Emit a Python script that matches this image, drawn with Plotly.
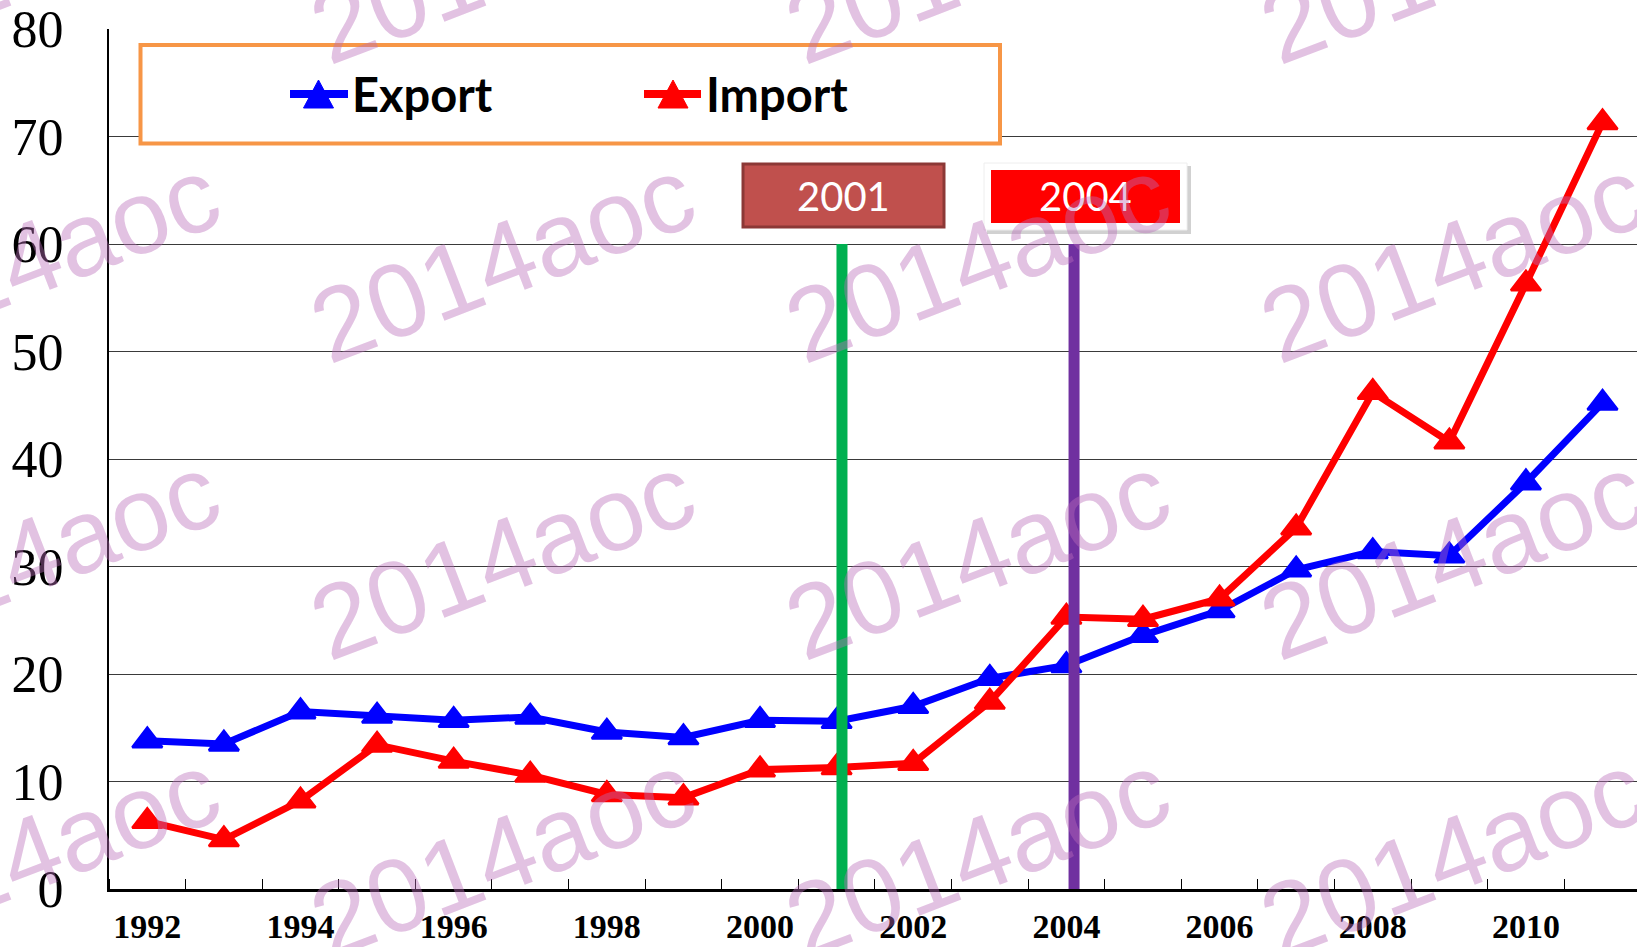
import plotly.graph_objects as go

# ---- data ----
years = list(range(1992, 2012))
export_vals = [13.8, 13.5, 16.5, 16.1, 15.7, 16.0, 14.6, 14.1, 15.7, 15.6,
               17.0, 19.6, 20.8, 23.6, 25.9, 29.7, 31.4, 31.0, 37.8, 45.2]
import_vals = [6.3, 4.6, 8.2, 13.4, 11.9, 10.6, 8.8, 8.5, 11.1, 11.3,
               11.7, 17.4, 25.3, 25.1, 27.0, 33.6, 46.2, 41.6, 56.3, 71.3]
series_names = ["Export", "Import"]
series_colors = ["#0000FF", "#FF0000"]
x_tick_years = years[::2]
y_ticks = list(range(0, 81, 10))
event_years = [2001.07, 2004.1]
event_labels = ["2001", "2004"]
event_top = 60
watermark_text = "2014aoc"

# ---- layout geometry (pixels) ----
W, H = 1637, 947
L, R, T, B = 109, 0, 29, 58
PW, PH = W - L - R, H - T - B


def X(px):
    return (px - L) / PW


def Y(py):
    return (H - B - py) / PH


fig = go.Figure()
for name, vals, col in zip(series_names, [export_vals, import_vals], series_colors):
    fig.add_trace(go.Scatter(
        x=years, y=vals, name=name, mode="lines+markers",
        line=dict(color=col, width=7),
        marker=dict(symbol="triangle-up", size=26, color=col,
                    line=dict(color=col, width=2.5)),
        cliponaxis=False, showlegend=False))

shapes = []
annotations = []

# event vertical lines
for ex, col in zip(event_years, ["#00B050", "#7030A0"]):
    shapes.append(dict(type="line", xref="x", yref="y", x0=ex, x1=ex, y0=0, y1=event_top,
                       line=dict(color=col, width=11), layer="above"))

# legend box (manual)
shapes.append(dict(type="rect", xref="paper", yref="paper",
                   x0=X(140.5), x1=X(1000), y0=Y(143.5), y1=Y(45),
                   line=dict(color="#F79646", width=4), fillcolor="white", layer="above"))
legend_items = [(290, 348, 318.5, 350), (644, 701, 673, 704)]
for (lx0, lx1, tx, txt_x), name, col in zip(legend_items, series_names, series_colors):
    shapes.append(dict(type="line", xref="paper", yref="paper",
                       x0=X(lx0), x1=X(lx1), y0=Y(94), y1=Y(94),
                       line=dict(color=col, width=8), layer="above"))
    shapes.append(dict(type="path", xref="paper", yref="paper",
                       path=f"M{X(tx-15)},{Y(108)} L{X(tx+15)},{Y(108)} L{X(tx)},{Y(80)} Z",
                       fillcolor=col, line=dict(color=col, width=1), layer="above"))
    annotations.append(dict(xref="paper", yref="paper", x=X(txt_x), y=Y(94),
                            xanchor="left", yanchor="middle", showarrow=False,
                            text=name,
                            font=dict(family="Lato", size=47, color="black", weight="bold")))

# event label boxes
shapes.append(dict(type="rect", xref="paper", yref="paper",
                   x0=X(743), x1=X(944), y0=Y(227), y1=Y(164),
                   fillcolor="#C0504D", line=dict(color="#8C3836", width=3), layer="above"))
shapes.append(dict(type="rect", xref="paper", yref="paper",
                   x0=X(987), x1=X(1191), y0=Y(234), y1=Y(166),
                   fillcolor="rgba(0,0,0,0.18)", line=dict(width=0), layer="above"))
shapes.append(dict(type="rect", xref="paper", yref="paper",
                   x0=X(984), x1=X(1187), y0=Y(230), y1=Y(163),
                   fillcolor="white", line=dict(color="#EEEEEE", width=1), layer="above"))
shapes.append(dict(type="rect", xref="paper", yref="paper",
                   x0=X(991), x1=X(1180), y0=Y(223), y1=Y(170),
                   fillcolor="#FF0000", line=dict(width=0), layer="above"))
for lbl, cx in zip(event_labels, [843.5, 1085]):
    annotations.append(dict(xref="paper", yref="paper", x=X(cx), y=Y(196),
                            xanchor="center", yanchor="middle", showarrow=False,
                            text=lbl, font=dict(family="Lato", size=40, color="white")))

# watermarks
wm_cols = [27, 502, 977, 1452]
wm_rows = [-39, 260, 557, 855]
for wy in wm_rows:
    for wx in wm_cols:
        annotations.append(dict(xref="paper", yref="paper", x=X(wx), y=Y(wy),
                                xanchor="center", yanchor="middle", showarrow=False,
                                text=watermark_text, textangle=-21,
                                font=dict(family="Liberation Sans", size=104,
                                          color="rgba(185,110,185,0.42)")))

fig.update_layout(
    width=W, height=H,
    margin=dict(l=L, r=R, t=T, b=B, pad=0, autoexpand=False),
    paper_bgcolor="white", plot_bgcolor="white",
    shapes=shapes, annotations=annotations,
    showlegend=False,
    xaxis=dict(range=[1991.5, 2011.45], tickmode="array", tickvals=x_tick_years,
               ticktext=[str(y) for y in x_tick_years], ticks="", automargin=False,
               showgrid=False, zeroline=False, showline=True, linecolor="black", linewidth=3,
               tickfont=dict(family="Liberation Serif", size=34, color="black", weight="bold"),
               ticklabelstandoff=5,
               minor=dict(ticks="inside", tick0=1991.5, dtick=1, ticklen=10,
                          tickcolor="black", tickwidth=1, showgrid=False)),
    yaxis=dict(range=[0, 80], tickmode="array", tickvals=y_ticks, ticks="", automargin=False,
               showgrid=True, gridcolor="#3a3a3a", gridwidth=1,
               zeroline=False, showline=True, linecolor="black", linewidth=2,
               tickfont=dict(family="Liberation Serif", size=52, color="black"),
               ticklabelstandoff=33),
)

fig.write_html("out.html", config={"displayModeBar": False},
               post_script="document.body.style.margin='0';document.body.style.overflow='hidden';")
